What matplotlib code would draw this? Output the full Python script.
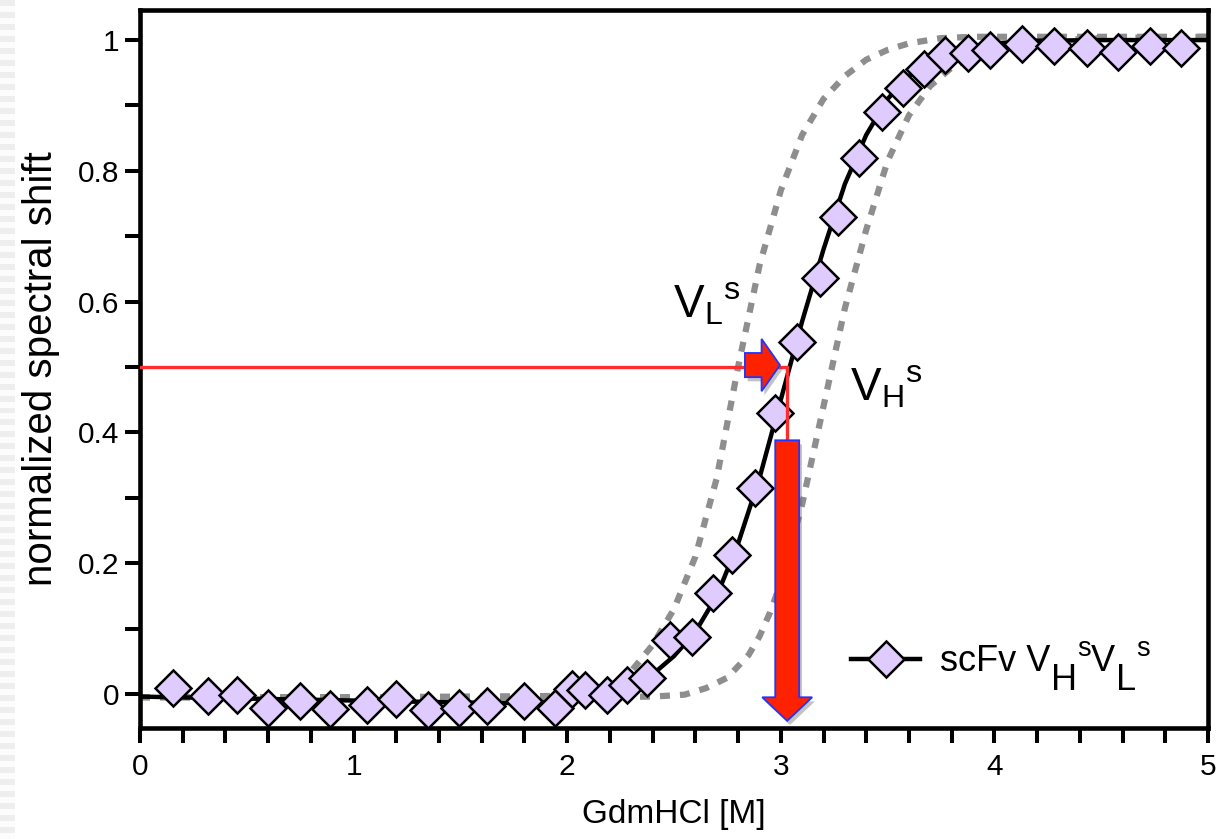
import matplotlib
matplotlib.use('Agg')
import matplotlib.pyplot as plt
import matplotlib.patheffects as pe
from matplotlib.patches import FancyArrow
from matplotlib.lines import Line2D
import numpy as np

plt.rcParams['font.family'] = ['Liberation Sans', 'DejaVu Sans']
plt.rcParams['mathtext.fontset'] = 'custom'
plt.rcParams['mathtext.rm'] = 'Liberation Sans'
plt.rcParams['mathtext.it'] = 'Liberation Sans:italic'
plt.rcParams['mathtext.bf'] = 'Liberation Sans:bold'

# ---- measured data (GdmHCl concentration [M] vs normalized spectral shift) ----
gdm_conc = [0.153, 0.317, 0.453, 0.598, 0.749, 0.890, 1.061, 1.199, 1.350, 1.495,
            1.623, 1.798, 1.943, 2.021, 2.083, 2.186, 2.280, 2.374, 2.481, 2.584,
            2.683, 2.772, 2.879, 2.973, 3.076, 3.184, 3.268, 3.366, 3.474, 3.572,
            3.670, 3.769, 3.876, 3.979, 4.129, 4.279, 4.434, 4.579, 4.728, 4.874]
spectral_shift = [0.009, -0.003, -0.002, -0.021, -0.010, -0.023, -0.017, -0.007, -0.024, -0.022,
                  -0.019, -0.011, -0.022, 0.007, 0.006, -0.002, 0.014, 0.024, 0.083, 0.087,
                  0.154, 0.213, 0.315, 0.430, 0.538, 0.636, 0.729, 0.820, 0.890, 0.927,
                  0.956, 0.977, 0.980, 0.985, 0.994, 0.991, 0.988, 0.982, 0.991, 0.988]

# ---- fit of scFv VHsVLs (solid black) ----
fit_x = [0.0, 0.5, 1.0, 1.5, 1.8, 2.0, 2.2, 2.3, 2.4, 2.5, 2.6, 2.7, 2.8, 2.9, 3.0,
         3.05, 3.1, 3.2, 3.3, 3.4, 3.5, 3.6, 3.7, 3.8, 3.9, 4.0, 4.2, 4.5, 5.0]
fit_y = [-0.004, -0.007, -0.010, -0.013, -0.014, -0.011, 0.0, 0.012, 0.030, 0.058, 0.095,
         0.150, 0.230, 0.330, 0.450, 0.510, 0.570, 0.680, 0.780, 0.855, 0.910, 0.945,
         0.968, 0.982, 0.990, 0.995, 0.999, 1.0, 1.0]

# ---- reference curves of isolated domains (grey dotted) ----
vl_x = [0.0, 1.0, 2.0, 2.2, 2.3, 2.35, 2.4, 2.5, 2.6, 2.7, 2.8, 2.9, 3.0, 3.1, 3.2,
        3.3, 3.4, 3.5, 3.6, 3.75, 3.9, 4.2, 5.0]
vl_y = [-0.005, -0.005, -0.003, 0.010, 0.035, 0.055, 0.075, 0.130, 0.210, 0.330, 0.500,
        0.655, 0.770, 0.855, 0.910, 0.945, 0.970, 0.985, 0.995, 1.003, 1.005, 1.005, 1.005]
vh_x = [0.0, 1.0, 2.0, 2.4, 2.55, 2.65, 2.75, 2.85, 2.9, 2.95, 3.0, 3.1, 3.2, 3.3,
        3.4, 3.5, 3.6, 3.7, 3.8, 3.9, 4.0, 4.2, 4.5, 5.0]
vh_y = [-0.005, -0.005, -0.005, -0.004, -0.001, 0.009, 0.025, 0.060, 0.088, 0.125, 0.170,
        0.290, 0.440, 0.590, 0.710, 0.815, 0.885, 0.930, 0.958, 0.975, 0.987, 0.998,
        1.003, 1.005]

midpoint_conc = 3.03
midpoint_signal = 0.5

x_ticks = [0, 1, 2, 3, 4, 5]
x_tick_labels = ['0', '1', '2', '3', '4', '5']
y_ticks = [0, 0.2, 0.4, 0.6, 0.8, 1.0]
y_tick_labels = ['0', '0.2', '0.4', '0.6', '0.8', '1']
legend_main = 'scFv V'
# (text, fontsize, dx pt, dy pt) pieces following the legend text
legend_pieces = [('H', 26, 0.5, -13.5), ('s', 19.5, 0.3, 26.0), ('V', 26, 0.0, -12.5),
                 ('L', 26, 0.5, -13.5), ('s', 19.5, 0.3, 26.0)]
label_vl = r'V$_{\mathrm{L}}$$^{\mathrm{s}}$'
label_vh = r'V$_{\mathrm{H}}$$^{\mathrm{s}}$'

# ---- figure ----
fig = plt.figure(figsize=(12.16, 8.39), dpi=100)

# faint pin-stripe strip at the left edge of the screenshot
ax_bg = fig.add_axes([0, 0, 15 / 1216, 1])
stripes = np.tile([[0.93], [0.985]], (70, 1))
ax_bg.imshow(stripes, aspect='auto', cmap='gray', vmin=0, vmax=1, interpolation='nearest')
ax_bg.axis('off')

ax = fig.add_axes([140 / 1216, 1 - 728 / 839, 1068 / 1216, 718 / 839])

grey = '#8e8e8e'
ax.plot(vl_x, vl_y, color=grey, lw=4.5, ls=(0, (1.6, 1.6)), dash_capstyle='butt', zorder=2)
ax.plot(vh_x, vh_y, color=grey, lw=4.5, ls=(0, (1.6, 1.6)), dash_capstyle='butt', zorder=2)
ax.plot(fit_x, fit_y, color='black', lw=3.2, zorder=3)
marker_kw = dict(marker='D', markersize=18, markerfacecolor='#E0CBFF',
                 markeredgecolor='black', markeredgewidth=1.8)
ax.plot(gdm_conc, spectral_shift, ls='none', zorder=4, **marker_kw)

# midpoint construction (red)
red_line = '#FF2D2D'
ax.plot([0, midpoint_conc, midpoint_conc], [midpoint_signal, midpoint_signal, 0.388],
        color=red_line, lw=2.4, zorder=5, solid_joinstyle='miter')
shadow = [pe.SimplePatchShadow(offset=(2, -3), shadow_rgbFace='#555555', alpha=0.35), pe.Normal()]
arr_r = FancyArrow(2.832, 0.503, 0.164, 0.0, width=0.037, head_width=0.080,
                   head_length=0.086, length_includes_head=True,
                   facecolor='#FF2200', edgecolor='#2035FF', lw=1.3, zorder=6)
arr_r.set_path_effects(shadow)
ax.add_patch(arr_r)
arr_d = FancyArrow(midpoint_conc, 0.388, 0.0, -0.429, width=0.112, head_width=0.234,
                   head_length=0.036, length_includes_head=True,
                   facecolor='#FF2200', edgecolor='#2035FF', lw=1.3, zorder=6)
arr_d.set_path_effects(shadow)
ax.add_patch(arr_d)

ax.text(2.495, 0.575, label_vl, fontsize=33, ha='left', va='baseline', zorder=7)
ax.text(3.324, 0.449, label_vh, fontsize=33, ha='left', va='baseline', zorder=7)

handle = Line2D([], [], color='black', lw=3.2, **marker_kw)
leg = ax.legend([handle], [legend_main], loc='center left', bbox_to_anchor=(0.666, 0.092),
                frameon=False, fontsize=26, handlelength=1.9, handletextpad=0.55,
                borderpad=0, borderaxespad=0)
prev = leg.get_texts()[0]
for txt, size, dx, dy in legend_pieces:
    prev = ax.annotate(txt, xy=(1, 0), xycoords=prev, xytext=(dx, dy),
                       textcoords='offset points', fontsize=size, ha='left', va='bottom',
                       annotation_clip=False, zorder=7)

ax.set_xlim(0, 5)
ax.set_ylim(-0.052, 1.046)
ax.set_xticks(x_ticks)
ax.set_xticklabels(x_tick_labels)
ax.set_yticks(y_ticks)
ax.set_yticklabels(y_tick_labels)
ax.set_xticks([0.2 * i for i in range(1, 25) if i % 5], minor=True)
ax.set_yticks([0.1, 0.3, 0.5, 0.7, 0.9], minor=True)
ax.tick_params(which='both', direction='out', length=11, width=2.9, color='black')
ax.tick_params(axis='x', labelsize=21.5, pad=7)
ax.tick_params(axis='y', labelsize=21.5, pad=4)
for s in ax.spines.values():
    s.set_linewidth(3.3)
    s.set_color('black')

ax.set_xlabel('GdmHCl [M]', fontsize=24, labelpad=13)
ax.set_ylabel('normalized spectral shift', fontsize=29, labelpad=13)

fig.savefig('out.png', dpi=100)
